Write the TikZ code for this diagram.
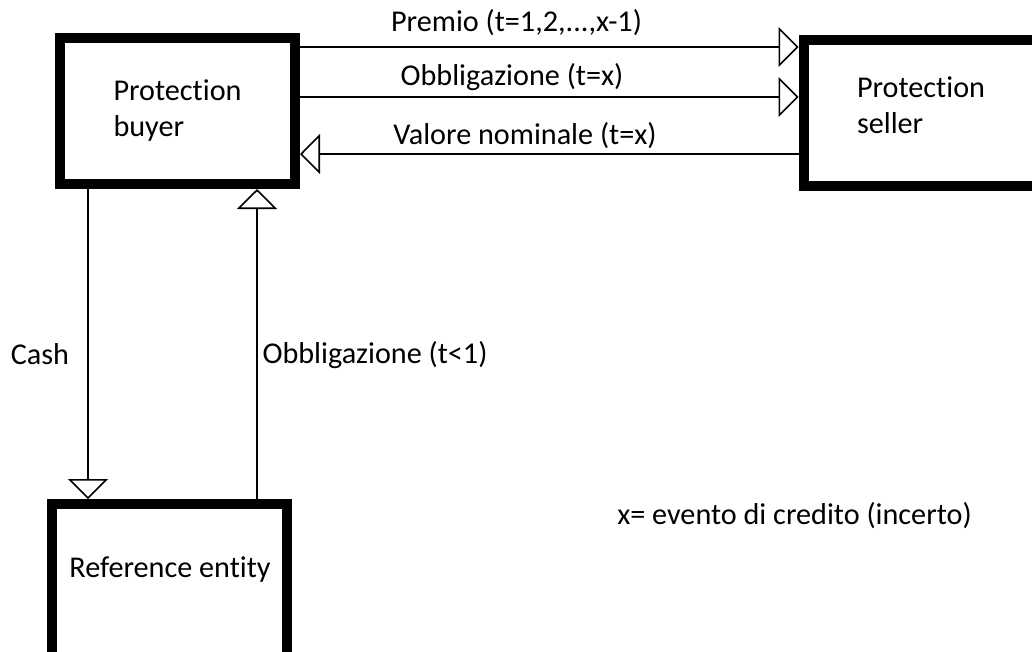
\documentclass[tikz,border=0pt]{standalone}
\usepackage{fontspec}
\setmainfont{Carlito}[Ligatures=NoCommon]
\usetikzlibrary{arrows.meta,positioning}

\begin{document}
\begin{tikzpicture}[x=1pt,y=-1pt,>={Triangle[open,length=20pt,width=40pt]},
    every node/.style={font=\fontsize{30.2}{36}\selectfont},
    box/.style={draw,line width=10pt,inner sep=0pt,align=left,minimum width=235pt,minimum height=146pt},
    flow/.style={->,line width=1.6pt}]
  \useasboundingbox (0,0) rectangle (1032,651);
  \clip (0,0) rectangle (1032,651);
  % ---- parties ----
  \node[box] (buyer)  at (177.5,111) {Protection\\buyer};
  \node[box] (seller) at (921,113)   {};
  \node[align=left] (sellerlabel) at (921,105) {Protection\\seller};
  \node[box,minimum height=160pt] (ref) at (169.5,584) {};
  \node (reflabel) at (170,570) {Reference entity};
  % ---- levels of the flows ----
  \coordinate (lvP) at (0,47);
  \coordinate (lvO) at (0,97);
  \coordinate (lvV) at (0,154);
  \coordinate (lvC) at (88,0);
  \coordinate (lvB) at (257,0);
  % ---- flows between buyer and seller ----
  \draw[flow] (buyer.east |- lvP) -- (seller.west |- lvP);
  \draw[flow] (buyer.east |- lvO) -- (seller.west |- lvO);
  \draw[flow] (seller.west |- lvV) -- (buyer.east |- lvV);
  \node (premio) at (516.5,23) {Premio (t=1,2,...,x-1)};
  \node (obblx)  at (512,77)   {Obbligazione (t=x)};
  \node (valore) at (525,136)  {Valore nominale (t=x)};
  % ---- flows with the reference entity ----
  \draw[flow] (buyer.south -| lvC) -- (ref.north -| lvC);
  \draw[flow] (ref.north -| lvB) -- (buyer.south -| lvB);
  \node (cash) at (40,354) {Cash};
  \node[anchor=west] (obbl1) at (259,355) {Obbligazione (t<1)};
  % ---- note ----
  \node (note) at (794.5,516) {x= evento di credito (incerto)};
\end{tikzpicture}
\end{document}
